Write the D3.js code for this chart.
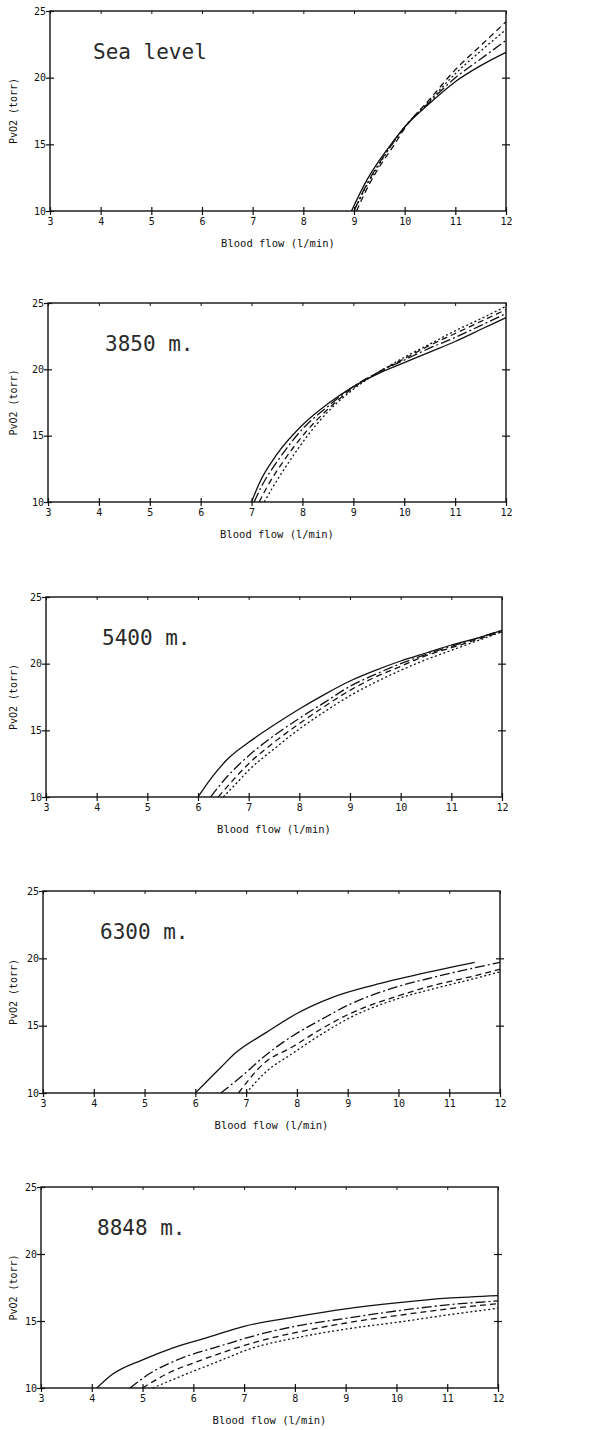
<!DOCTYPE html>
<meta charset="utf-8">
<script src="https://d3js.org/d3.v7.min.js"></script>
<style>
  body { margin: 0; background: #fff; }
  text { font-family: "DejaVu Sans Mono", monospace; fill: #111; }
</style>
<div id="my_dataviz"></div>
<script>

// ---- data: [blood flow (l/min), PvO2 (torr)] ----
var xTicks = [3, 4, 5, 6, 7, 8, 9, 10, 11, 12];
var yTicks = [10, 15, 20, 25];
var rightTicks = [15, 20];
var panelTitles = ["Sea level", "3850 m.", "5400 m.", "6300 m.", "8848 m."];
var seriesNames = ["solid", "dashdot", "longdash", "dotted"];

var seaLevel = [
  [[8.95,10],[9.25,12.3],[9.5,13.8],[9.75,15.1],[10,16.3],[10.5,18.1],[11,19.7],[11.5,20.9],[12,21.9]],
  [[9.0,10],[9.25,12.0],[9.5,13.6],[9.75,15.0],[10,16.3],[10.5,18.2],[11,20.0],[11.5,21.4],[12,22.8]],
  [[9.05,10],[9.3,12.0],[9.55,13.6],[9.8,15.0],[10,16.2],[10.5,18.4],[11,20.6],[11.5,22.4],[12,24.2]],
  [[9.0,10],[9.25,11.9],[9.5,13.5],[9.75,15.0],[10,16.3],[10.5,18.3],[11,20.3],[11.5,22.0],[12,23.6]]
];
var m3850 = [
  [[7.0,10],[7.15,11.4],[7.5,13.6],[8,15.8],[8.5,17.4],[9,18.7],[9.5,19.7],[10,20.5],[10.5,21.3],[11,22.1],[11.5,23.0],[12,23.9]],
  [[7.05,10],[7.2,11.2],[7.55,13.3],[8,15.5],[8.5,17.2],[9,18.7],[9.5,19.8],[10,20.7],[10.5,21.6],[11,22.4],[11.5,23.3],[12,24.2]],
  [[7.15,10],[7.3,11.1],[7.65,13.2],[8.05,15.2],[8.5,17.0],[9,18.6],[9.5,19.8],[10,20.8],[10.5,21.8],[11,22.7],[11.5,23.6],[12,24.5]],
  [[7.25,10],[7.4,11.0],[7.75,13.1],[8.1,15.0],[8.5,16.8],[9,18.5],[9.5,19.8],[10,20.9],[10.5,21.9],[11,22.9],[11.5,23.8],[12,24.75]]
];
var m5400 = [
  [[6.0,10],[6.3,11.6],[6.6,12.9],[7.0,14.1],[7.5,15.4],[8.0,16.6],[8.5,17.7],[9.0,18.7],[9.5,19.5],[10,20.2],[10.5,20.8],[11,21.4],[11.5,21.9],[12,22.5]],
  [[6.25,10],[6.5,11.2],[6.8,12.4],[7.0,13.1],[7.5,14.6],[8.0,15.9],[8.5,17.1],[9.0,18.3],[9.5,19.2],[10,20.0],[10.5,20.7],[11,21.3],[11.5,21.9],[12,22.5]],
  [[6.4,10],[6.7,11.3],[7.0,12.5],[7.5,14.1],[8.0,15.5],[8.5,16.8],[9.0,18.0],[9.5,19.0],[10,19.8],[10.5,20.6],[11,21.2],[11.5,21.8],[12,22.4]],
  [[6.5,10],[6.8,11.2],[7.0,12.0],[7.5,13.6],[8.0,15.1],[8.5,16.4],[9.0,17.6],[9.5,18.6],[10,19.5],[10.5,20.3],[11,21.0],[11.5,21.7],[12,22.4]]
];
var m6300 = [
  [[6.0,10],[6.5,11.9],[6.8,13.0],[7.4,14.5],[8.0,15.9],[8.7,17.1],[9.5,18.0],[10.5,18.9],[11.5,19.7]],
  [[6.5,10],[6.9,11.2],[7.35,12.7],[7.9,14.2],[8.5,15.5],[9.05,16.6],[9.9,17.8],[10.7,18.6],[11.5,19.3],[12,19.7]],
  [[6.85,10],[7.35,12.2],[7.9,13.4],[8.5,14.8],[9.05,15.9],[9.9,17.1],[10.7,18.0],[11.5,18.7],[12,19.2]],
  [[7.0,10],[7.4,11.6],[7.9,12.9],[8.5,14.4],[9.05,15.6],[9.9,16.9],[10.7,17.75],[11.5,18.5],[12,19.0]]
];
var m8848 = [
  [[4.1,10],[4.4,11.0],[5.0,12.1],[5.6,13.0],[6.3,13.8],[7.0,14.6],[8.0,15.3],[9.0,15.9],[10,16.35],[11,16.7],[12,16.9]],
  [[4.75,10],[5.15,11.1],[5.75,12.2],[6.5,13.1],[7.2,13.9],[8.0,14.6],[9.0,15.2],[10,15.75],[11,16.2],[12,16.5]],
  [[5.0,10],[5.5,11.1],[6.1,12.0],[6.7,12.8],[7.3,13.5],[8.1,14.2],[9.0,14.85],[10,15.4],[11,15.9],[12,16.3]],
  [[5.2,10],[5.9,11.1],[6.5,12.0],[7.1,12.9],[8.1,13.8],[9.1,14.45],[10.1,14.95],[11,15.45],[12,15.95]]
];
var panelData = [seaLevel, m3850, m5400, m6300, m8848];

// ---- layout of the five stacked panels (page pixels) ----
var layout = [
  {left: 50, right: 506, top: 11,   bottom: 211,  titleX: 93},
  {left: 48, right: 506, top: 303,  bottom: 502,  titleX: 105},
  {left: 46, right: 502, top: 597,  bottom: 797,  titleX: 102},
  {left: 43, right: 500, top: 891,  bottom: 1093, titleX: 100},
  {left: 41, right: 498, top: 1187, bottom: 1388, titleX: 97}
];
var dashes = {solid: null, dashdot: "10,3,2,3", longdash: "6,4", dotted: "2,2.5"};

var svg = d3.select("#my_dataviz")
  .append("svg")
    .attr("width", 590)
    .attr("height", 1430);

layout.forEach(function (p, i) {
  var w = p.right - p.left, h = p.bottom - p.top;
  var g = svg.append("g").attr("transform", "translate(" + p.left + "," + p.top + ")");

  var x = d3.scaleLinear().domain([3, 12]).range([0, w]);
  var y = d3.scaleLinear().domain([10, 25]).range([h, 0]);

  // frame
  g.append("rect").attr("width", w).attr("height", h)
    .attr("fill", "none").attr("stroke", "#111").attr("stroke-width", 1.4);

  // bottom axis: cross ticks at every integer
  var xa = g.append("g").attr("transform", "translate(0," + h + ")")
    .call(d3.axisBottom(x).tickValues(xTicks).tickFormat(d3.format("d")).tickSize(4).tickPadding(3));
  xa.selectAll("line").attr("y1", -4).attr("stroke", "#111").attr("stroke-width", 1.2);
  xa.selectAll("text").style("font-size", "10px");

  // top axis: short inward ticks
  var ta = g.append("g")
    .call(d3.axisBottom(x).tickValues(xTicks).tickFormat("").tickSize(3));
  ta.selectAll("line").attr("stroke", "#111");

  // left axis
  var ya = g.append("g")
    .call(d3.axisLeft(y).tickValues(yTicks).tickFormat(d3.format("d")).tickSize(4).tickPadding(0));
  ya.selectAll("line").attr("x1", 4).attr("stroke", "#111").attr("stroke-width", 1.2);
  ya.selectAll("text").style("font-size", "10px");

  // right axis: cross ticks at 15 and 20
  var ra = g.append("g").attr("transform", "translate(" + w + ",0)")
    .call(d3.axisRight(y).tickValues(rightTicks).tickFormat("").tickSize(4));
  ra.selectAll("line").attr("x1", -4).attr("stroke", "#111").attr("stroke-width", 1.2);

  g.selectAll(".domain").remove();

  // axis titles
  g.append("text")
    .attr("x", w / 2).attr("y", h + 36)
    .attr("text-anchor", "middle")
    .style("font-size", "10.5px")
    .text("Blood flow (l/min)");
  g.append("text")
    .attr("transform", "translate(" + (17 - p.left) + "," + (h / 2) + ") rotate(-90)")
    .attr("text-anchor", "middle")
    .style("font-size", "10px")
    .text("PvO2 (torr)");

  // altitude label (thin plotter lettering)
  g.append("text")
    .attr("x", p.titleX - p.left).attr("y", 48)
    .style("font-size", "21px")
    .style("fill", "#2a2a2a")
    .text(panelTitles[i]);

  // curves
  var line = d3.line()
    .x(function (d) { return x(d[0]); })
    .y(function (d) { return y(d[1]); })
    .curve(d3.curveMonotoneX);

  panelData[i].forEach(function (s, k) {
    g.append("path")
      .datum(s)
      .attr("d", line)
      .attr("fill", "none")
      .attr("stroke", "#111")
      .attr("stroke-width", 1.3)
      .attr("stroke-dasharray", dashes[seriesNames[k]]);
  });
});

</script>
